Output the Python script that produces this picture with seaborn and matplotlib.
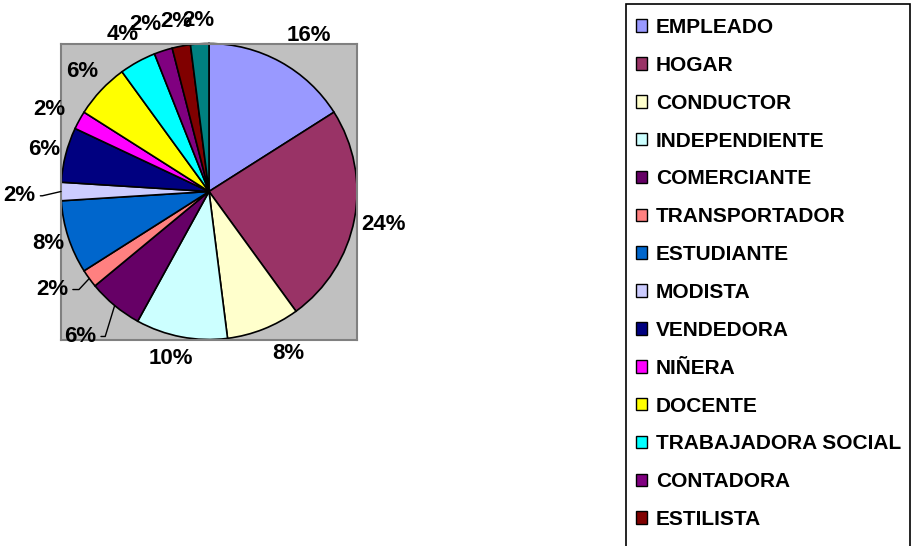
import numpy as np
import matplotlib
matplotlib.use("Agg")
import matplotlib.pyplot as plt
import seaborn as sns
from matplotlib.patches import Patch, Rectangle

# counts per occupation (n = 50); the last slice has no entry in the legend
categories = ["EMPLEADO", "HOGAR", "CONDUCTOR", "INDEPENDIENTE", "COMERCIANTE",
              "TRANSPORTADOR", "ESTUDIANTE", "MODISTA", "VENDEDORA", "NIÑERA",
              "DOCENTE", "TRABAJADORA SOCIAL", "CONTADORA", "ESTILISTA"]
counts = [8, 12, 4, 5, 3, 1, 4, 1, 3, 1, 3, 2, 1, 1, 1]

colors = ["#9999FF", "#993366", "#FFFFCC", "#CCFFFF", "#660066", "#FF8080",
          "#0066CC", "#CCCCFF", "#000080", "#FF00FF", "#FFFF00", "#00FFFF",
          "#800080", "#800000", "#008080"]

# label distance from centre (in radii), angle nudge (deg), leader lines
label_r = [1.25, 1.2, 1.22, 1.16, 1.31, 1.25, 1.14, 1.28, 1.15, 1.21, 1.18, 1.21, 1.21, 1.17, 1.16]
label_da = [-4, 0, 4.4, -2.2, -2, -4, 0, 1.3, 0, 1.6, 0, 0, 2.8, 0, 0]
leader = {4: 73, 5: 47, 7: 13}

sns.set_style("white")
plt.rcParams["font.family"] = ["Liberation Sans", "DejaVu Sans"]
plt.rcParams["font.weight"] = "bold"
plt.rcParams["text.color"] = "black"

fig = plt.figure(figsize=(9.12, 5.46), dpi=100)
ax = fig.add_axes([61 / 912, 1 - 340 / 546, 296 / 912, 297 / 546])
ax.set_facecolor("#C0C0C0")

wedges, _ = ax.pie(counts, colors=colors, startangle=90, counterclock=False,
                   radius=1.0, frame=True,
                   wedgeprops=dict(edgecolor="black", linewidth=1.2))
ax.set_xlim(-1, 1)
ax.set_ylim(-1, 1)
ax.set_xticks([])
ax.set_yticks([])
for s in ax.spines.values():
    s.set_color("#808080")
    s.set_linewidth(1.5)

total = sum(counts)
for i, w in enumerate(wedges):
    mid = np.deg2rad((w.theta1 + w.theta2) / 2)
    ang = mid + np.deg2rad(label_da[i])
    pct = f"{round(100 * counts[i] / total)}%"
    r = label_r[i]
    pos = (r * np.cos(ang), r * np.sin(ang))
    if i in leader:
        ax.annotate(pct, xy=(np.cos(mid), np.sin(mid)), xytext=pos,
                    ha="center", va="center", fontsize=16, fontweight="bold",
                    annotation_clip=False,
                    arrowprops=dict(arrowstyle="-", color="black", lw=1,
                                    shrinkA=1, shrinkB=0,
                                    connectionstyle=f"angle,angleA=0,angleB={leader[i]},rad=0"))
    else:
        ax.text(pos[0], pos[1], pct, ha="center", va="center",
                fontsize=16, fontweight="bold", clip_on=False)

# legend box runs past the bottom edge, as in the original export
fig.patches.append(Rectangle((626 / 912, -0.1), 284 / 912, 1.1 - 4 / 546,
                             transform=fig.transFigure, fill=False,
                             edgecolor="black", linewidth=1.2))
handles = [Patch(facecolor=c, edgecolor="black", linewidth=1) for c in colors[:len(categories)]]
leg = fig.legend(handles, categories, loc="upper left",
                 bbox_to_anchor=(636 / 912, 1 - 18 / 546), borderaxespad=0,
                 frameon=False, prop=dict(size=15, weight="bold"),
                 handlelength=0.55, handleheight=0.55, handletextpad=0.4,
                 labelspacing=0.905, borderpad=0)

fig.savefig("out.png", dpi=100)
